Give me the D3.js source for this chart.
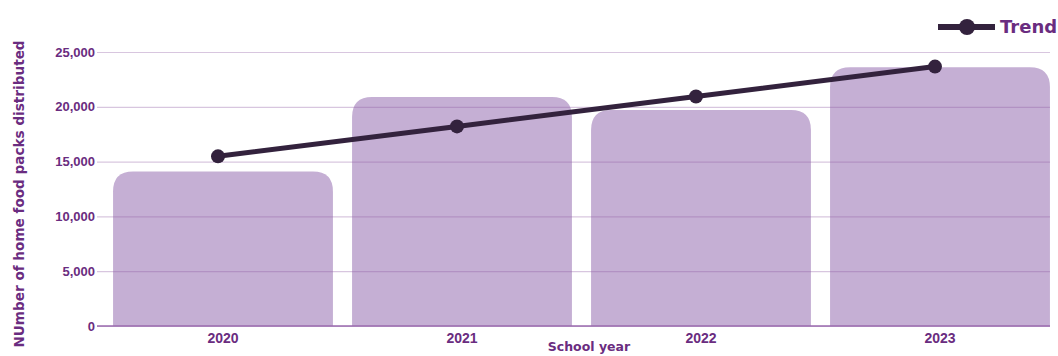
<!DOCTYPE html>
<html>
<head>
<meta charset="utf-8">
<script src="https://cdn.jsdelivr.net/npm/d3@7/dist/d3.min.js"></script>
<style>
  html, body { margin: 0; padding: 0; background: #fff; }
  svg { display: block; font-family: "DejaVu Sans", sans-serif; }
</style>
</head>
<body>
<svg id="chart" width="1058" height="356"></svg>
<script>
const years = ["2020", "2021", "2022", "2023"];
const packs = [14100, 20900, 19700, 23600];
const trend = [15480, 18210, 20940, 23670];
const yTicks = [0, 5000, 10000, 15000, 20000, 25000];

const svg = d3.select("#chart");
const purple = "#6a2c80";
const barFill = "#c5afd4";
const lineColor = "#33223d";

const x = d3.scaleBand().domain(years).range([103.5, 1059.5]).paddingInner(0.08).paddingOuter(0.04);
const y = d3.scaleLinear().domain([0, 25000]).range([326, 52]);

// bars with rounded top corners
const r = 20;
svg.append("g").selectAll("path").data(years).join("path")
  .attr("fill", barFill)
  .attr("d", (d, i) => {
    const x0 = x(d), w = x.bandwidth(), y0 = y(packs[i]), yb = y(0);
    return `M${x0},${yb}V${y0 + r}Q${x0},${y0} ${x0 + r},${y0}H${x0 + w - r}Q${x0 + w},${y0} ${x0 + w},${y0 + r}V${yb}Z`;
  });

// gridlines and y ticks
const yAxis = d3.axisLeft(y).tickValues(yTicks).tickFormat(d3.format(",")).tickSize(-953).tickPadding(2);
const gy = svg.append("g").attr("transform", "translate(97,0)").call(yAxis);
gy.select(".domain").remove();
gy.selectAll(".tick line").attr("stroke", "#8e5ca3").attr("stroke-opacity", 0.35).attr("stroke-width", 1.2);
gy.selectAll(".tick text").attr("fill", purple).attr("font-size", 13).attr("font-weight", 700);

// baseline
svg.append("line").attr("x1", 97).attr("x2", 1050).attr("y1", y(0)).attr("y2", y(0))
  .attr("stroke", "#9a6aae").attr("stroke-width", 1.5);

// x axis labels
const xAxis = d3.axisBottom(x).tickSize(0).tickPadding(7);
const gx = svg.append("g").attr("transform", `translate(0,${y(0)})`).call(xAxis);
gx.select(".domain").remove();
gx.selectAll(".tick text").attr("fill", purple).attr("font-size", 14).attr("font-weight", 700);

// trend line
const tx = d => x(d) + x.bandwidth() / 2 - 5;
const line = d3.line().x((d, i) => tx(years[i])).y(d => y(d));
svg.append("path").datum(trend).attr("d", line)
  .attr("fill", "none").attr("stroke", lineColor).attr("stroke-width", 5).attr("stroke-linecap", "round");
svg.append("g").selectAll("circle").data(trend).join("circle")
  .attr("cx", (d, i) => tx(years[i])).attr("cy", d => y(d)).attr("r", 7).attr("fill", lineColor);

// axis titles
svg.append("text").attr("x", 589).attr("y", 351).attr("text-anchor", "middle")
  .attr("fill", purple).attr("font-size", 12.5).attr("font-weight", 700).text("School year");
svg.append("text").attr("transform", "translate(24,194) rotate(-90)").attr("text-anchor", "middle")
  .attr("fill", purple).attr("font-size", 13.6).attr("font-weight", 700)
  .text("NUmber of home food packs distributed");

// legend
const lg = svg.append("g");
lg.append("line").attr("x1", 938).attr("x2", 995).attr("y1", 27).attr("y2", 27)
  .attr("stroke", lineColor).attr("stroke-width", 6);
lg.append("circle").attr("cx", 967).attr("cy", 27).attr("r", 8).attr("fill", lineColor);
lg.append("text").attr("x", 1000).attr("y", 33).attr("fill", purple)
  .attr("font-size", 18).attr("font-weight", 700).text("Trend");
</script>
</body>
</html>
